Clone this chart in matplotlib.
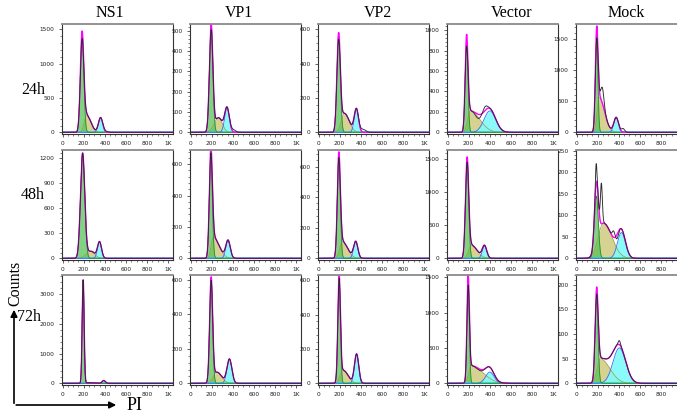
import numpy as np
import matplotlib
matplotlib.use("Agg")
import matplotlib.pyplot as plt
from matplotlib.ticker import MultipleLocator, AutoMinorLocator, FixedLocator

W, H = 677, 413

conditions = ["NS1", "VP1", "VP2", "Vector", "Mock"]
times = ["24h", "48h", "72h"]

# y-axis upper limit and major tick step per panel (rows = times, cols = conditions)
y_max = [[1580, 533, 630, 1060, 1750],
         [1293, 690, 708, 1640, 252],
         [3630, 629, 630, 1535, 220]]
y_step = [[500, 100, 200, 200, 500],
          [300, 200, 200, 500, 50],
          [1000, 200, 200, 500, 50]]

# G1 peak: (channel, counts, width)
g1_peak = [[(185, 1440, 16), (195, 520, 16), (190, 560, 16), (180, 880, 13), (190, 1450, 12)],
           [(190, 1240, 20), (192, 640, 14), (192, 650, 14), (185, 1480, 15), (188, 145, 18)],
           [(195, 3480, 9), (195, 600, 14), (195, 600, 12), (195, 1420, 11), (190, 170, 14)]]
# S phase: (channel, counts, left width, right width)
s_phase = [[(228, 250, 22, 40), (265, 72, 40, 35), (245, 110, 30, 45), (215, 210, 25, 90), (215, 560, 20, 50)],
           [(270, 85, 45, 35), (215, 135, 20, 55), (225, 110, 25, 50), (225, 200, 25, 55), (255, 82, 50, 80)],
           [(250, 20, 30, 60), (250, 65, 35, 45), (235, 75, 30, 45), (225, 250, 25, 110), (225, 50, 30, 90)]]
# G2 peak: (channel, counts, width)
g2_peak = [[(360, 215, 20), (345, 120, 22), (358, 135, 20), (400, 210, 55), (375, 240, 22)],
           [(350, 195, 19), (355, 112, 21), (352, 108, 20), (350, 185, 21), (425, 60, 38)],
           [(390, 95, 15), (368, 140, 23), (360, 170, 20), (400, 160, 40), (405, 72, 60)]]
# deviations of the measured histogram from the fitted total: (channel, counts, width)
data_dev = [[[(185, -110, 9), (405, 15, 22)], [(195, -30, 8), (405, 12, 22)], [(190, -40, 8), (420, 18, 25)],
             [(180, -120, 8), (355, 40, 20), (290, -40, 25)], [(190, -200, 8), (245, 250, 15), (440, 60, 15)]],
            [[], [(195, -40, 8)], [(195, -40, 8)], [(185, -80, 8)],
             [(185, 45, 7), (235, 95, 9), (350, 15, 12), (385, -10, 12)]],
            [[], [(195, -20, 8)], [(195, -20, 8)], [(195, -150, 8), (300, -20, 30)],
             [(190, -15, 8), (405, 8, 10)]]]

x_ticks = [0, 200, 400, 600, 800, 1000]
x_tick_labels = ["0", "200", "400", "600", "800", "1K"]

col_left = [62, 190, 318, 447, 576]
row_top = [24, 150, 275]
ax_w, ax_h = 111, 110
title_x = [110, 239, 378, 512, 626]
row_label_x = [33, 33, 29]
row_label_y = [90, 195, 317]

serif = ["Liberation Serif", "DejaVu Serif"]

fig = plt.figure(figsize=(W / 100, H / 100), dpi=100)

# overlay for annotations (pixel coordinates)
ov = fig.add_axes([0, 0, 1, 1], zorder=-1)
ov.set_xlim(0, W)
ov.set_ylim(H, 0)
ov.axis("off")

x = np.arange(0, 1046, 2.0)


def gauss(x, mu, h, sd):
    return h * np.exp(-0.5 * ((x - mu) / sd) ** 2)


def asym(x, mu, h, sdl, sdr):
    sd = np.where(x < mu, sdl, sdr)
    return h * np.exp(-0.5 * ((x - mu) / sd) ** 2)


for r in range(3):
    for c in range(5):
        l, t = col_left[c], row_top[r]
        ax = fig.add_axes([l / W, 1 - (t + ax_h) / H, ax_w / W, ax_h / H])
        g1 = gauss(x, *g1_peak[r][c])
        s = asym(x, *s_phase[r][c])
        g2 = gauss(x, *g2_peak[r][c])
        total = g1 + s + g2
        data = total.copy()
        for dv in data_dev[r][c]:
            data = data + gauss(x, *dv)
        data = np.clip(data, 0, None)

        ax.fill_between(x, 0, s, color="#d2cf86", alpha=0.9, lw=0)
        ax.plot(x, s, color="#9a9a4a", lw=0.5)
        ax.fill_between(x, 0, g2, color="#7ffafa", alpha=0.9, lw=0)
        ax.plot(x, g2, color="#3a6cf0", lw=0.6)
        ax.fill_between(x, 0, g1, color="#4fc34f", alpha=0.72, lw=0)
        ax.plot(x, g1, color="#2f8a2f", lw=0.6)
        ax.axhline(0, color="#30d0d0", lw=1.2, zorder=1)
        ax.plot(x, total, color="#ff00ff", lw=1.0)
        ax.plot(x, data, color="#2a2a2a", lw=0.65)

        ym = y_max[r][c]
        ax.set_ylim(-0.015 * ym, ym)
        ax.set_xlim(-5, 1045)
        ax.xaxis.set_major_locator(FixedLocator(x_ticks))
        labels = list(x_tick_labels)
        if c == 4:
            labels[-1] = ""  # cut off by the figure edge in the reference
        ax.set_xticklabels(labels)
        ax.xaxis.set_minor_locator(MultipleLocator(50))
        ax.yaxis.set_major_locator(MultipleLocator(y_step[r][c]))
        ax.yaxis.set_minor_locator(AutoMinorLocator(5))
        ax.tick_params(axis="both", which="major", labelsize=4.2, length=2.2, width=0.5, pad=3,
                       colors="#222222")
        ax.tick_params(axis="both", which="minor", length=1.2, width=0.4, colors="#222222")
        for sp in ["left", "bottom", "right"]:
            ax.spines[sp].set_color("#333333")
            ax.spines[sp].set_linewidth(0.8)
        ax.spines["top"].set_color("#8a8a8a")
        ax.spines["top"].set_linewidth(1.3)

for c, name in enumerate(conditions):
    ov.text(title_x[c], 13, name, ha="center", va="center", fontsize=11.5, family=serif)
for r, tl in enumerate(times):
    ov.text(row_label_x[r], row_label_y[r], tl, ha="center", va="center", fontsize=11.5, family=serif)

ov.text(15, 283, "Counts", rotation=90, ha="center", va="center", fontsize=11.5, family=serif)
ov.text(135, 406, "PI", ha="center", va="center", fontsize=13, family=serif)
ov.annotate("", xy=(14, 307), xytext=(14, 406),
            arrowprops=dict(arrowstyle="-|>", color="black", lw=1.2, mutation_scale=10))
ov.annotate("", xy=(119, 405), xytext=(13.4, 405),
            arrowprops=dict(arrowstyle="-|>", color="black", lw=1.2, mutation_scale=10))

fig.savefig("out.png", dpi=100)
